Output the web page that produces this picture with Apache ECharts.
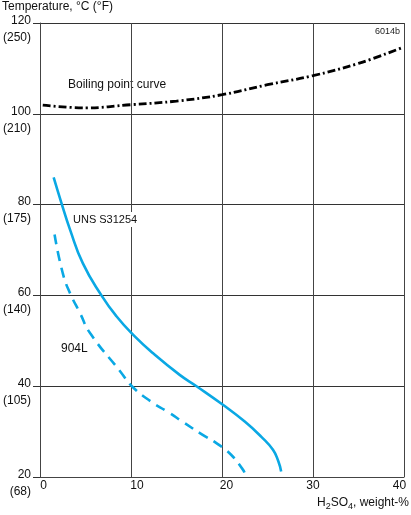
<!DOCTYPE html>
<html>
<head>
<meta charset="utf-8">
<script src="https://cdn.jsdelivr.net/npm/echarts@6/dist/echarts.min.js"></script>
<style>
  html, body { margin: 0; padding: 0; background: #fff; }
  #chart { width: 411px; height: 515px; }
</style>
</head>
<body>
<div id="chart"></div>
<script>
// y ticks in °C with the °F value printed under each one
var tempC = [20, 40, 60, 80, 100, 120];
var tempF = [68, 105, 140, 175, 210, 250];

// boiling point curve
var boilAcid = [0.3, 5, 10, 15, 20, 25, 30, 35, 39.7];
var boilTemp = [101.9, 101.3, 102.0, 102.8, 104.2, 106.4, 108.4, 111.1, 114.5];

// UNS S31254 (solid)
var unsAcid = [1.5, 2.35, 3.3, 4.7, 6.75, 8.4, 10.3, 12.4, 15.35, 17.2, 20.1, 22.5, 24.3, 25.6, 26.2, 26.5];
var unsTemp = [86, 80.4, 74.5, 67.1, 60, 55.4, 51.2, 47.3, 42.5, 40, 35.9, 32.2, 28.9, 26.0, 23.4, 21.2];

// 904L (dashed)
var l904Acid = [1.6, 2.5, 3.3, 4.4, 5.5, 8.8, 10.1, 12.2, 14.0, 15.8, 17.7, 19.5, 21.0, 22.2, 22.5];
var l904Temp = [73.4, 64.9, 60.5, 56.1, 51.7, 43.3, 40.0, 36.6, 34.4, 32.0, 29.5, 27.3, 24.9, 21.9, 20.9];

function pairs(xs, ys) {
    return xs.map(function (x, i) { return [x, ys[i]]; });
}

var font = '"Liberation Sans", Arial, Helvetica, sans-serif';
var blue = '#0aa8e4';

var myChart = echarts.init(document.getElementById('chart'), null, {renderer: 'canvas'});
var option = {
    animation: false,
    textStyle: {fontFamily: font, color: '#111'},
    title: {
        text: 'Temperature, °C (°F)',
        left: 1,
        top: 0,
        padding: [1, 0, 0, 1],
        textStyle: {fontSize: 12, fontWeight: 'normal', color: '#111', fontFamily: font}
    },
    grid: {left: 40, right: 7, top: 23, bottom: 38, outerBoundsMode: 'none', containLabel: false},
    xAxis: {
        type: 'value',
        min: 0, max: 40, interval: 10,
        axisLine: {show: true, lineStyle: {color: '#444', width: 1}},
        axisTick: {show: false},
        splitLine: {show: true, lineStyle: {color: '#444', width: 1}},
        axisLabel: {
            margin: 3,
            fontSize: 12,
            color: '#111',
            fontFamily: font,
            formatter: function (v) { return '{o' + v + '|' + v + '}'; },
            rich: {
                o0: {padding: [0, 0, 0, 7]},
                o10: {padding: [0, 0, 0, 12]},
                o20: {padding: [0, 0, 0, 9]},
                o30: {},
                o40: {padding: [0, 9, 0, 0]}
            }
        },
        name: '{n|H}{s|2}{n|SO}{s|4}{n|, weight-%}',
        nameLocation: 'end',
        nameGap: 5,
        nameTextStyle: {
            align: 'right',
            verticalAlign: 'top',
            padding: [18, 0, 0, 0],
            rich: {
                n: {fontSize: 12, color: '#111', fontFamily: font},
                s: {fontSize: 9, color: '#111', fontFamily: font, padding: [7, 0, 0, 0]}
            }
        }
    },
    yAxis: {
        type: 'value',
        min: 20, max: 120, interval: 20,
        axisLine: {show: true, lineStyle: {color: '#444', width: 1}},
        axisTick: {show: true, inside: false, length: 7, lineStyle: {color: '#333'}},
        splitLine: {show: true, lineStyle: {color: '#333', width: 1}},
        axisLabel: {
            margin: 9,
            fontSize: 12,
            color: '#111',
            fontFamily: font,
            align: 'right',
            formatter: function (v) {
                return '{g| }\n{a|' + v + '}\n{a|(' + tempF[tempC.indexOf(v)] + ')}';
            },
            rich: {
                g: {fontSize: 6, lineHeight: 12},
                a: {fontSize: 12, lineHeight: 17, color: '#111', fontFamily: font}
            }
        }
    },
    graphic: [
        {type: 'text', left: 68, top: 79, style: {text: 'Boiling point curve', font: '12px ' + font, fill: '#111'}},
        {type: 'text', right: 11, top: 27, style: {text: '6014b', font: '9px ' + font, fill: '#222'}},
        {type: 'text', left: 71, top: 212, z: 100, style: {text: 'UNS S31254', font: '11px ' + font, fill: '#111',
            backgroundColor: '#fff', padding: [2, 2, 2, 2]}},
        {type: 'text', left: 61, top: 343, style: {text: '904L', font: '12px ' + font, fill: '#111'}}
    ],
    series: [
        {
            name: 'Boiling point curve',
            type: 'line',
            data: pairs(boilAcid, boilTemp),
            smooth: 0.4,
            symbol: 'none',
            lineStyle: {color: '#000', width: 2.8, type: [8, 3, 2, 3]}
        },
        {
            name: 'UNS S31254',
            type: 'line',
            data: pairs(unsAcid, unsTemp),
            smooth: 0.5,
            symbol: 'none',
            lineStyle: {color: blue, width: 2.6}
        },
        {
            name: '904L',
            type: 'line',
            data: pairs(l904Acid, l904Temp),
            smooth: 0.5,
            symbol: 'none',
            lineStyle: {color: blue, width: 2.6, type: [10, 7]}
        }
    ]
};
myChart.setOption(option);
</script>
</body>
</html>
